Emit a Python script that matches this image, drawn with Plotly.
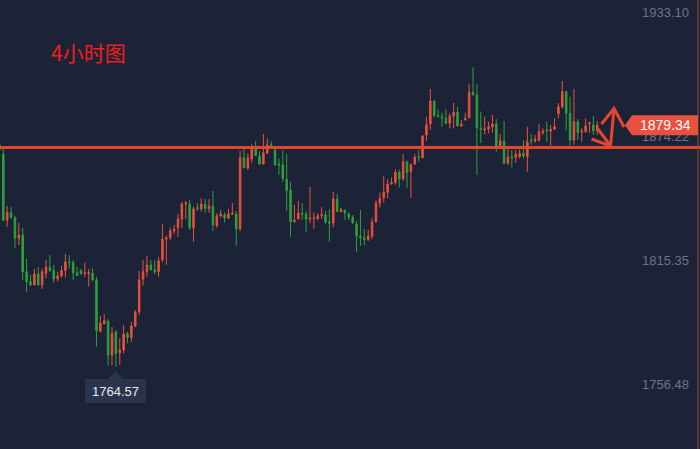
import plotly.graph_objects as go

# 4h candles (oldest -> newest)
opens = [1870.0, 1865.7, 1834.3, 1837.8, 1835.4, 1825.7, 1827.2, 1809.8, 1805.1, 1803.5,
         1808.7, 1803.5, 1809.0, 1812.0, 1810.3, 1806.3, 1807.8, 1810.3, 1814.5, 1814.1,
         1809.3, 1810.3, 1808.9, 1808.9, 1809.0, 1805.9, 1781.3, 1785.0, 1786.4, 1770.2,
         1781.0, 1771.3, 1772.6, 1780.2, 1778.5, 1784.0, 1790.8, 1806.3, 1809.8, 1813.0,
         1810.6, 1809.8, 1815.4, 1825.3, 1825.9, 1829.1, 1830.7, 1834.8, 1841.9, 1841.9,
         1830.7, 1840.2, 1839.7, 1841.9, 1839.7, 1841.0, 1831.5, 1836.2, 1836.7, 1835.2,
         1837.1, 1837.2, 1830.1, 1863.9, 1859.0, 1863.3, 1868.4, 1864.7, 1860.9, 1866.0,
         1870.0, 1867.6, 1860.9, 1860.5, 1853.7, 1848.6, 1833.5, 1834.8, 1837.5, 1837.1,
         1834.7, 1835.0, 1835.0, 1836.4, 1836.7, 1833.5, 1832.8, 1844.3, 1838.3, 1838.8,
         1837.2, 1835.6, 1832.4, 1826.7, 1825.9, 1824.9, 1826.7, 1833.4, 1842.3, 1844.9,
         1847.5, 1851.6, 1852.1, 1857.0, 1853.8, 1862.0, 1857.3, 1860.9, 1864.4, 1863.9,
         1874.7, 1879.9, 1890.8, 1883.9, 1883.4, 1882.6, 1880.3, 1883.7, 1885.5, 1879.0,
         1881.8, 1882.9, 1895.0, 1893.7, 1877.9, 1877.1, 1877.6, 1878.6, 1879.9, 1869.5,
         1871.9, 1861.3, 1864.4, 1864.1, 1864.4, 1866.0, 1864.4, 1872.3, 1871.9, 1872.3,
         1875.8, 1877.1, 1876.6, 1877.4, 1884.7, 1888.1, 1895.3, 1885.0, 1872.3, 1881.0,
         1876.1, 1876.3, 1880.1, 1879.5, 1876.7]
highs = [1874.7, 1868.5, 1841.0, 1840.5, 1836.4, 1832.9, 1830.7, 1815.8, 1808.2, 1811.1,
         1812.0, 1811.1, 1815.4, 1817.7, 1813.0, 1809.8, 1812.5, 1818.2, 1817.7, 1815.4,
         1812.2, 1811.1, 1814.1, 1811.1, 1811.4, 1807.4, 1788.8, 1789.7, 1787.3, 1783.5,
         1782.1, 1778.2, 1784.5, 1781.3, 1785.9, 1791.6, 1810.1, 1815.4, 1817.3, 1815.4,
         1815.4, 1816.8, 1832.4, 1826.9, 1830.7, 1832.0, 1837.2, 1843.0, 1843.4, 1843.8,
         1840.7, 1842.4, 1844.6, 1844.3, 1844.3, 1848.1, 1837.5, 1839.1, 1838.0, 1839.6,
         1842.4, 1838.6, 1867.1, 1868.1, 1866.0, 1870.4, 1871.9, 1867.1, 1875.2, 1873.1,
         1871.9, 1868.4, 1863.6, 1867.6, 1865.7, 1852.5, 1841.5, 1843.4, 1842.3, 1838.6,
         1850.0, 1838.0, 1837.5, 1840.4, 1838.6, 1839.4, 1847.8, 1846.7, 1840.2, 1839.4,
         1838.0, 1836.7, 1833.9, 1839.1, 1830.1, 1829.6, 1835.2, 1843.8, 1847.3, 1855.2,
         1853.7, 1854.6, 1858.4, 1858.4, 1865.7, 1862.5, 1861.3, 1865.7, 1867.6, 1874.7,
         1883.4, 1896.5, 1891.3, 1886.9, 1885.3, 1886.9, 1885.0, 1890.0, 1888.1, 1881.8,
         1885.3, 1899.2, 1906.8, 1898.9, 1885.8, 1883.4, 1881.0, 1884.2, 1882.2, 1875.2,
         1881.3, 1867.9, 1867.6, 1867.6, 1867.9, 1872.3, 1878.6, 1875.2, 1874.7, 1879.9,
         1877.9, 1881.0, 1879.5, 1882.6, 1889.8, 1900.3, 1895.7, 1892.9, 1896.5, 1882.2,
         1877.9, 1882.6, 1881.0, 1883.7, 1881.3]
lows = [1865.2, 1833.9, 1831.0, 1835.3, 1821.2, 1822.5, 1805.9, 1800.3, 1803.2, 1803.5,
        1803.2, 1801.6, 1806.7, 1809.8, 1804.6, 1805.1, 1807.0, 1807.0, 1811.4, 1805.9,
        1807.9, 1808.7, 1807.4, 1802.7, 1805.4, 1774.2, 1781.3, 1785.0, 1765.2, 1765.2,
        1764.57, 1765.5, 1771.0, 1775.8, 1776.6, 1783.4, 1789.2, 1803.2, 1807.4, 1810.6,
        1808.7, 1807.4, 1814.3, 1813.0, 1824.9, 1827.7, 1826.4, 1830.7, 1834.8, 1829.6,
        1824.0, 1838.6, 1838.3, 1837.8, 1837.8, 1829.1, 1830.7, 1835.6, 1833.1, 1834.8,
        1836.7, 1822.1, 1829.1, 1859.2, 1858.1, 1861.6, 1864.9, 1860.5, 1860.9, 1865.7,
        1869.2, 1860.0, 1855.7, 1852.5, 1838.8, 1826.4, 1833.1, 1834.8, 1834.3, 1828.8,
        1832.8, 1830.1, 1834.3, 1834.8, 1832.4, 1824.0, 1830.9, 1838.3, 1838.0, 1834.3,
        1834.3, 1832.3, 1819.3, 1822.0, 1822.5, 1824.5, 1825.3, 1833.4, 1840.2, 1842.6,
        1844.6, 1851.0, 1851.0, 1849.7, 1853.0, 1849.7, 1844.9, 1860.5, 1862.0, 1863.6,
        1871.9, 1877.1, 1883.1, 1883.1, 1878.6, 1879.8, 1877.9, 1877.9, 1878.6, 1878.6,
        1881.8, 1882.9, 1893.4, 1855.7, 1871.0, 1875.0, 1875.5, 1875.8, 1866.8, 1869.5,
        1860.9, 1860.5, 1859.2, 1861.6, 1863.6, 1863.6, 1857.3, 1870.0, 1871.0, 1871.5,
        1874.7, 1871.5, 1869.5, 1877.1, 1882.6, 1887.4, 1877.1, 1869.5, 1870.0, 1872.3,
        1871.5, 1875.8, 1875.8, 1874.7, 1874.7]
closes = [1867.6, 1834.3, 1837.8, 1835.4, 1825.7, 1827.2, 1809.8, 1805.1, 1803.5, 1808.7,
          1803.5, 1809.8, 1812.0, 1810.3, 1806.3, 1807.8, 1810.3, 1814.5, 1814.1, 1809.3,
          1807.9, 1808.7, 1809.3, 1809.3, 1805.9, 1781.8, 1785.3, 1786.5, 1770.2, 1780.5,
          1771.0, 1772.6, 1780.2, 1778.5, 1784.0, 1790.7, 1805.9, 1809.8, 1813.0, 1810.6,
          1809.8, 1814.9, 1825.3, 1825.9, 1829.1, 1829.9, 1834.8, 1841.9, 1842.4, 1830.7,
          1839.6, 1839.7, 1841.9, 1839.9, 1841.0, 1832.0, 1836.2, 1837.2, 1835.2, 1837.2,
          1837.5, 1830.1, 1863.9, 1859.2, 1863.9, 1868.4, 1864.9, 1860.9, 1866.3, 1870.0,
          1869.2, 1860.5, 1860.5, 1854.1, 1848.3, 1833.5, 1834.3, 1837.5, 1837.1, 1834.8,
          1835.2, 1835.4, 1836.4, 1836.9, 1833.5, 1832.8, 1844.3, 1838.3, 1839.4, 1837.8,
          1835.6, 1833.1, 1826.7, 1825.9, 1825.2, 1826.7, 1833.4, 1842.3, 1844.6, 1847.5,
          1851.4, 1852.1, 1857.0, 1853.8, 1862.0, 1856.8, 1860.5, 1864.1, 1863.9, 1874.2,
          1879.5, 1890.8, 1883.9, 1883.4, 1882.9, 1880.3, 1883.7, 1885.5, 1879.1, 1879.8,
          1882.6, 1895.0, 1893.7, 1878.2, 1877.4, 1877.6, 1878.6, 1879.9, 1869.5, 1871.9,
          1861.3, 1864.3, 1863.9, 1865.5, 1866.0, 1864.7, 1871.5, 1871.9, 1872.8, 1876.3,
          1876.6, 1876.6, 1877.4, 1878.6, 1888.1, 1895.3, 1885.0, 1872.3, 1881.0, 1875.8,
          1876.6, 1879.0, 1880.5, 1876.7, 1879.34]
bars = list(range(len(closes)))

key_level = 1868.8          # the drawn horizontal level
price_ticks = [1933.10, 1874.22, 1815.35, 1756.48]
title_txt = "4小时图"

W, H = 700, 449
BG = "#1d2336"
UP = "#e9503f"
DOWN = "#2ca23b"
LINE = "#e3462e"
Y0, Y1 = 1725.6, 1938.8
per_px = (Y1 - Y0) / H

def px(x):
    return x / W

def py(y):
    return 1 - y / H

fig = go.Figure(go.Candlestick(
    x=bars, open=opens, high=highs, low=lows, close=closes,
    increasing=dict(line=dict(color=UP, width=1), fillcolor=UP),
    decreasing=dict(line=dict(color=DOWN, width=1), fillcolor=DOWN),
    whiskerwidth=0, showlegend=False, hoverinfo="skip"))

shapes = []
# key level
shapes.append(dict(type="line", xref="paper", x0=0, x1=1, yref="y", y0=key_level, y1=key_level,
                   line=dict(color=LINE, width=3), layer="above"))
# right border
shapes.append(dict(type="line", xref="paper", yref="paper", x0=px(698), x1=px(698), y0=0, y1=1,
                   line=dict(color="#9a4d33", width=1)))

# hand drawn arrow
def seg(points):
    return "M " + " L ".join(f"{px(a):.5f},{py(b):.5f}" for a, b in points)

arrow = [
    [(601.5, 124), (614, 108.5), (624, 127)],
    [(614, 108.5), (610.5, 146)],
    [(591.5, 139), (610.5, 146)],
    [(598, 129), (610.5, 146)],
]
for pts in arrow:
    shapes.append(dict(type="path", xref="paper", yref="paper", path=seg(pts),
                       line=dict(color=LINE, width=3), layer="above"))

# last price tag
last = closes[-1]
h = 10 * per_px
tag = (f"M {px(625):.5f},{last:.3f} L {px(632):.5f},{last + h:.3f} L {px(698):.5f},{last + h:.3f} "
       f"L {px(698):.5f},{last - h:.3f} L {px(632):.5f},{last - h:.3f} Z")
shapes.append(dict(type="path", xref="paper", yref="y", path=tag,
                   fillcolor="#e9503f", line=dict(width=0), layer="above"))

# low tooltip
shapes.append(dict(type="rect", xref="paper", yref="paper", x0=px(85), x1=px(146), y0=py(403), y1=py(379),
                   fillcolor="#2a344c", line=dict(width=0), layer="above"))
shapes.append(dict(type="path", xref="paper", yref="paper",
                   path=seg([(107, 379.5), (115.5, 371), (124, 379.5)]) + " Z",
                   fillcolor="#2a344c", line=dict(width=0), layer="above"))

annotations = [
    dict(text=title_txt, xref="paper", yref="paper", x=px(49), y=py(52), xanchor="left", yanchor="middle",
         showarrow=False, font=dict(family="Noto Sans CJK SC", size=21, color="#f21d1d")),
    dict(text=f"{last:.2f}", xref="paper", yref="y", x=px(665), y=last, xanchor="center", yanchor="middle",
         showarrow=False, font=dict(family="Arial", size=14, color="#ffffff")),
    dict(text=f"{min(lows):.2f}", xref="paper", yref="paper", x=px(115.5), y=py(391), xanchor="center",
         yanchor="middle", showarrow=False, font=dict(family="Arial", size=13, color="#e8e8ec")),
]

fig.update_layout(
    width=W, height=H,
    margin=dict(l=0, r=0, t=0, b=0),
    paper_bgcolor=BG, plot_bgcolor=BG,
    boxgap=0.45,
    shapes=shapes, annotations=annotations,
    xaxis=dict(range=[0.15, 180.47], visible=False, rangeslider=dict(visible=False), fixedrange=True),
    yaxis=dict(range=[Y0, Y1], side="right", tickvals=price_ticks,
               ticktext=[f"{v:.2f}" for v in price_ticks],
               ticklabelposition="inside", ticklabelstandoff=8, ticks="",
               showgrid=False, zeroline=False, showline=False, fixedrange=True,
               tickfont=dict(family="Arial", size=13, color="#6d7488")),
)

fig.write_html("out.html", config={"displayModeBar": False},
               post_script="document.body.style.margin='0';document.body.style.background='#1d2336';")
